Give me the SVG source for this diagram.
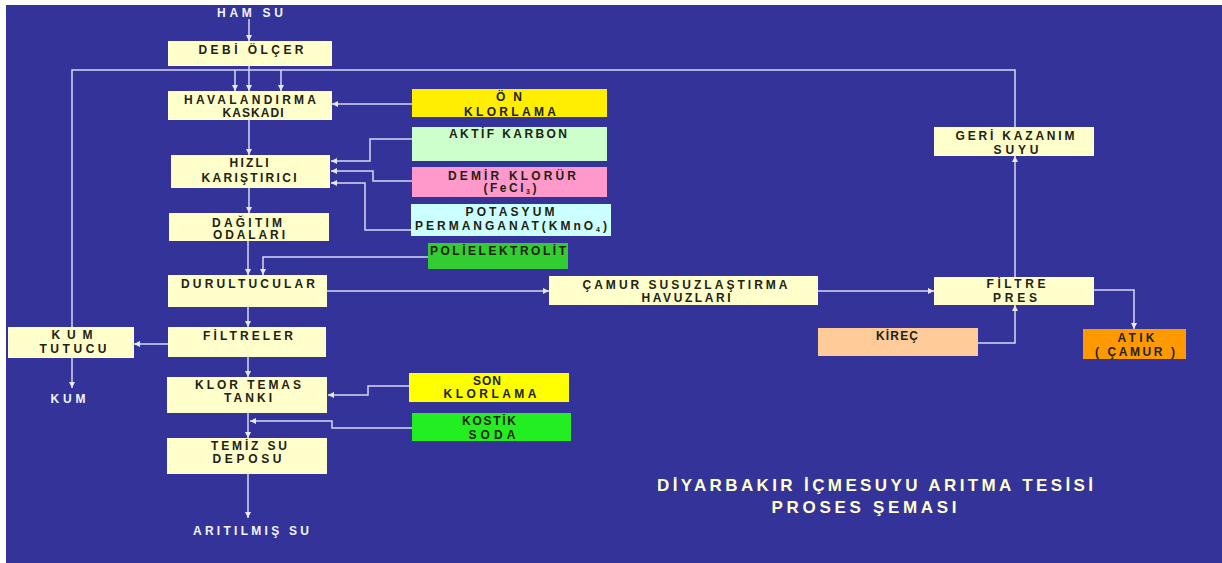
<svg xmlns="http://www.w3.org/2000/svg" width="1222" height="563" viewBox="0 0 1222 563">
<defs>
<style>
.bg{fill:#333399}
.box{fill:#FFFFCC}
.t{font-family:"Liberation Sans",Arial,sans-serif;font-weight:bold;font-size:12px;fill:#222211;text-anchor:middle}
.w{fill:#F4F4FF}
.title{font-family:"Liberation Sans",Arial,sans-serif;font-weight:bold;font-size:17px;fill:#FFFFCC;text-anchor:middle}
.c{fill:none;stroke:#D8D8F4;stroke-width:1.5}
</style>
<marker id="ar" viewBox="0 0 10 10" refX="10" refY="5" markerWidth="6" markerHeight="6" markerUnits="userSpaceOnUse" orient="auto">
<path d="M0,0 L10,5 L0,10 z" fill="#E8E8FF"/>
</marker>
</defs>
<rect x="0" y="0" width="1222" height="563" fill="#FFFFFF"/>
<rect class="bg" x="6" y="5" width="1216" height="558"/>

<g id="connectors">
<path class="c" d="M249,19 V41" marker-end="url(#ar)"/>
<path class="c" d="M249,66 V91" marker-end="url(#ar)"/>
<path class="c" d="M1015,127 V70 H72 V327"/>
<path class="c" d="M235,70 V91" marker-end="url(#ar)"/>
<path class="c" d="M281,70 V91" marker-end="url(#ar)"/>
<path class="c" d="M72,358 V388" marker-end="url(#ar)"/>
<path class="c" d="M412,104 H332" marker-end="url(#ar)"/>
<path class="c" d="M249,120 V155" marker-end="url(#ar)"/>
<path class="c" d="M412,139 H370 V161 H331" marker-end="url(#ar)"/>
<path class="c" d="M412,181 H373 V171 H331" marker-end="url(#ar)"/>
<path class="c" d="M411,230 H365 V183 H331" marker-end="url(#ar)"/>
<path class="c" d="M249,188 V213" marker-end="url(#ar)"/>
<path class="c" d="M248,241 V275" marker-end="url(#ar)"/>
<path class="c" d="M428,257 H263 V275" marker-end="url(#ar)"/>
<path class="c" d="M327,291 H549" marker-end="url(#ar)"/>
<path class="c" d="M818,291 H934" marker-end="url(#ar)"/>
<path class="c" d="M1015,277 V156" marker-end="url(#ar)"/>
<path class="c" d="M978,343 H1015 V305" marker-end="url(#ar)"/>
<path class="c" d="M1094,290 H1134 V329" marker-end="url(#ar)"/>
<path class="c" d="M248,307 V327" marker-end="url(#ar)"/>
<path class="c" d="M168,344 H134" marker-end="url(#ar)"/>
<path class="c" d="M248,357 V377" marker-end="url(#ar)"/>
<path class="c" d="M409,386 H368 V395 H328" marker-end="url(#ar)"/>
<path class="c" d="M412,428 H332 V421 H250" marker-end="url(#ar)"/>
<path class="c" d="M248,413 V438" marker-end="url(#ar)"/>
<path class="c" d="M248,474 V518" marker-end="url(#ar)"/>
</g>

<g id="ham-su"><text class="t w" x="250" y="17" textLength="66" lengthAdjust="spacing">HAM SU</text></g>
<g id="debi-olcer"><rect class="box" x="168" y="41" width="164" height="25"/>
<text class="t" x="251" y="54" textLength="105" lengthAdjust="spacing">DEBİ  ÖLÇER</text></g>
<g id="havalandirma"><rect class="box" x="168" y="91" width="164" height="29"/>
<text class="t" x="250" y="104" textLength="132" lengthAdjust="spacing">HAVALANDIRMA</text>
<text class="t" x="253" y="117" textLength="61" lengthAdjust="spacing">KASKADI</text></g>
<g id="on-klorlama"><rect x="412" y="89" width="195" height="28" fill="#FFEE00"/>
<text class="t" x="509" y="101" textLength="26" lengthAdjust="spacing">ÖN</text>
<text class="t" x="510" y="116" textLength="92" lengthAdjust="spacing">KLORLAMA</text></g>
<g id="aktif-karbon"><rect x="412" y="127" width="195" height="34" fill="#CCFFCC"/>
<text class="t" x="508" y="138" textLength="118" lengthAdjust="spacing">AKTİF KARBON</text></g>
<g id="hizli"><rect class="box" x="171" y="155" width="159" height="33"/>
<text class="t" x="249" y="167" textLength="39" lengthAdjust="spacing">HIZLI</text>
<text class="t" x="249" y="182" textLength="95" lengthAdjust="spacing">KARIŞTIRICI</text></g>
<g id="demir-klorur"><rect x="412" y="167" width="195" height="30" fill="#FF99CC"/>
<text class="t" x="512" y="180" textLength="128" lengthAdjust="spacing">DEMİR KLORÜR</text>
<text class="t" x="510" y="192" textLength="53" lengthAdjust="spacing">(FeCl<tspan font-size="7" dy="2">3</tspan><tspan dy="-2">)</tspan></text></g>
<g id="potasyum"><rect x="411" y="204" width="200" height="32" fill="#CCFFFF"/>
<text class="t" x="510" y="216" textLength="89" lengthAdjust="spacing">POTASYUM</text>
<text class="t" x="511" y="230" textLength="192" lengthAdjust="spacing">PERMANGANAT(KMnO<tspan font-size="7" dy="2">4</tspan><tspan dy="-2">)</tspan></text></g>
<g id="dagitim"><rect class="box" x="169" y="213" width="160" height="28"/>
<text class="t" x="247" y="227" textLength="70" lengthAdjust="spacing">DAĞITIM</text>
<text class="t" x="249" y="239" textLength="72" lengthAdjust="spacing">ODALARI</text></g>
<g id="polielektrolit"><rect x="428" y="243" width="140" height="26" fill="#33CC33"/>
<text class="t" x="498" y="255" textLength="136" lengthAdjust="spacing">POLİELEKTROLİT</text></g>
<g id="durultucular"><rect class="box" x="168" y="275" width="159" height="32"/>
<text class="t" x="248" y="288" textLength="134" lengthAdjust="spacing">DURULTUCULAR</text></g>
<g id="camur-susuz"><rect class="box" x="549" y="276" width="269" height="29"/>
<text class="t" x="685" y="289" textLength="205" lengthAdjust="spacing">ÇAMUR SUSUZLAŞTIRMA</text>
<text class="t" x="686" y="302" textLength="89" lengthAdjust="spacing">HAVUZLARI</text></g>
<g id="geri-kazanim"><rect class="box" x="934" y="127" width="160" height="29"/>
<text class="t" x="1015" y="140" textLength="119" lengthAdjust="spacing">GERİ KAZANIM</text>
<text class="t" x="1016" y="154" textLength="45" lengthAdjust="spacing">SUYU</text></g>
<g id="filtre-pres"><rect class="box" x="934" y="277" width="160" height="28"/>
<text class="t" x="1016" y="288" textLength="59" lengthAdjust="spacing">FİLTRE</text>
<text class="t" x="1015" y="302" textLength="44" lengthAdjust="spacing">PRES</text></g>
<g id="kirec"><rect x="818" y="328" width="160" height="28" fill="#FFCC99"/>
<text class="t" x="897" y="340" textLength="42" lengthAdjust="spacing">KİREÇ</text></g>
<g id="atik"><rect x="1083" y="329" width="103" height="30" fill="#FF9900"/>
<text class="t" x="1136" y="342" textLength="37" lengthAdjust="spacing">ATIK</text>
<text class="t" x="1135" y="356" textLength="80" lengthAdjust="spacing">( ÇAMUR )</text></g>
<g id="filtreler"><rect class="box" x="168" y="327" width="158" height="30"/>
<text class="t" x="248" y="340" textLength="90" lengthAdjust="spacing">FİLTRELER</text></g>
<g id="kum-tutucu"><rect class="box" x="8" y="327" width="126" height="31"/>
<text class="t" x="72" y="339" textLength="41" lengthAdjust="spacing">KUM</text>
<text class="t" x="73" y="353" textLength="67" lengthAdjust="spacing">TUTUCU</text></g>
<g id="kum"><text class="t w" x="68" y="403" textLength="35" lengthAdjust="spacing">KUM</text></g>
<g id="klor-temas"><rect class="box" x="167" y="377" width="160" height="36"/>
<text class="t" x="248" y="389" textLength="106" lengthAdjust="spacing">KLOR TEMAS</text>
<text class="t" x="248" y="402" textLength="48" lengthAdjust="spacing">TANKI</text></g>
<g id="son-klorlama"><rect x="409" y="373" width="160" height="29" fill="#FFFF00"/>
<text class="t" x="487" y="385" textLength="28" lengthAdjust="spacing">SON</text>
<text class="t" x="490" y="398" textLength="93" lengthAdjust="spacing">KLORLAMA</text></g>
<g id="kostik-soda"><rect x="412" y="413" width="159" height="28" fill="#22EE22"/>
<text class="t" x="489" y="425" textLength="54" lengthAdjust="spacing">KOSTİK</text>
<text class="t" x="492" y="439" textLength="47" lengthAdjust="spacing">SODA</text></g>
<g id="temiz-su"><rect class="box" x="167" y="438" width="160" height="36"/>
<text class="t" x="249" y="450" textLength="76" lengthAdjust="spacing">TEMİZ SU</text>
<text class="t" x="247" y="463" textLength="69" lengthAdjust="spacing">DEPOSU</text></g>
<g id="aritilmis-su"><text class="t w" x="251" y="535" textLength="116" lengthAdjust="spacing">ARITILMIŞ  SU</text></g>

<g id="title">
<text class="title" x="875" y="491" textLength="436" lengthAdjust="spacing">DİYARBAKIR İÇMESUYU ARITMA TESİSİ</text>
<text class="title" x="864" y="513" textLength="185" lengthAdjust="spacing">PROSES ŞEMASI</text>
</g>
</svg>
